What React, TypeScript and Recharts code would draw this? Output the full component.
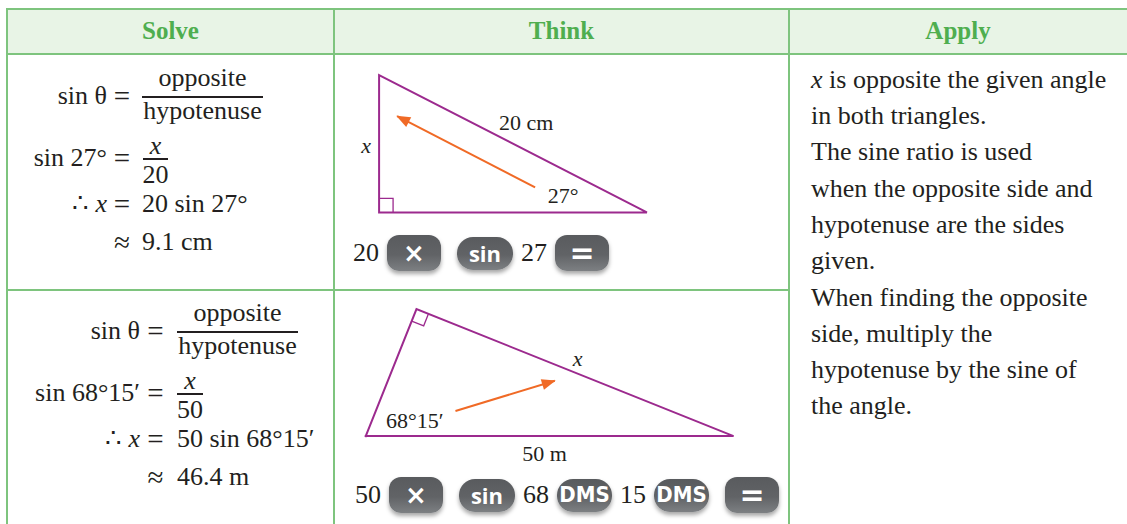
import React from "react";
import { LineChart, Line, XAxis, YAxis, ReferenceDot } from "recharts";

const SERIF = "'Liberation Serif', 'Times New Roman', serif";
const INK = "#231f20";
const GREEN = "#4fae4f";
const RULE = "#7ec47e";
const HEAD_BG = "#e8f4e6";
const PURPLE = "#9c2a8e";
const ORANGE = "#f06a26";

type Pt = { x: number; y: number };
type Note = { x: number; y: number; text: string };

const headers = ["Solve", "Think", "Apply"];

// triangle 1: hypotenuse 20 cm, angle 27°, opposite side x ≈ 9.1
const tri1Sides: Pt[] = [
    { x: 0, y: 0 },
    { x: 17.8, y: 0 },
    { x: 0, y: 9.1 },
    { x: 0, y: 0 },
];
const tri1Corner: Pt[] = [
    { x: 0, y: 0.93 },
    { x: 0.93, y: 0.93 },
    { x: 0.93, y: 0 },
];
const tri1Arrow: Pt[] = [
    { x: 10.37, y: 1.66 },
    { x: 1.2, y: 6.38 },
];
const tri1Notes: Note[] = [
    { x: 9.77, y: 5.98, text: "20 cm" },
    { x: -0.86, y: 4.45, text: "x" },
    { x: 12.23, y: 1.13, text: "27°" },
];

// triangle 2: hypotenuse 50 m, angle 68°15′, opposite side x ≈ 46.4
const tri2Sides: Pt[] = [
    { x: 0, y: 0 },
    { x: 50, y: 0 },
    { x: 6.9, y: 17.2 },
    { x: 0, y: 0 },
];
const tri2Corner: Pt[] = [
    { x: 6.25, y: 15.58 },
    { x: 7.88, y: 14.93 },
    { x: 8.53, y: 16.55 },
];
const tri2Arrow: Pt[] = [
    { x: 12.2, y: 3.4 },
    { x: 25.7, y: 7.5 },
];
const tri2Notes: Note[] = [
    { x: 28.8, y: 10.6, text: "x" },
    { x: 6.66, y: 2.17, text: "68°15′" },
    { x: 24.3, y: -2.31, text: "50 m" },
];

const keys1 = ["20", "×", "sin", "27", "="];
const keys2 = ["50", "×", "sin", "68", "DMS", "15", "DMS", "="];

const applyLines = [
    "x is opposite the given angle",
    "in both triangles.",
    "The sine ratio is used",
    "when the opposite side and",
    "hypotenuse are the sides",
    "given.",
    "When finding the opposite",
    "side, multiply the",
    "hypotenuse by the sine of",
    "the angle.",
];

const Txt: React.FC<{
    x: number;
    base: number;
    align?: "left" | "right" | "center";
    size?: number;
    bold?: boolean;
    color?: string;
    children: React.ReactNode;
}> = ({ x, base, align = "left", size = 26, bold, color = INK, children }) => {
    const w = 400;
    const left = align === "left" ? x : align === "right" ? x - w : x - w / 2;
    return (
        <div
            style={{
                position: "absolute",
                left,
                top: base - 20.8,
                width: w,
                textAlign: align,
                fontSize: size,
                lineHeight: "24px",
                fontWeight: bold ? 700 : 400,
                whiteSpace: "nowrap",
                color,
            }}
        >
            {children}
        </div>
    );
};

// relation sign (= or ≈), drawn a little larger like a math font
const Rel: React.FC<{ x: number; base: number; children: React.ReactNode }> = ({ x, base, children }) => (
    <Txt x={x} base={base} align="center" size={29}>
        {children}
    </Txt>
);

const Bar: React.FC<{ x1: number; x2: number; y: number }> = ({ x1, x2, y }) => (
    <div
        style={{
            position: "absolute",
            left: x1,
            top: y - 0.6,
            width: x2 - x1,
            height: 1.2,
            background: INK,
        }}
    />
);

const Rule: React.FC<{ x: number; y: number; w: number; h: number }> = ({ x, y, w, h }) => (
    <div style={{ position: "absolute", left: x, top: y, width: w, height: h, background: RULE }} />
);

const arrowHead = (pts: Pt[]) => (props: any) => {
    const { cx, cy, index } = props;
    if (index !== pts.length - 1) return <g key={`ah-${index}`} />;
    const a = pts[pts.length - 2];
    const b = pts[pts.length - 1];
    const ang = (Math.atan2(-(b.y - a.y), b.x - a.x) * 180) / Math.PI;
    return (
        <polygon
            key={`ah-${index}`}
            points="1,0 -13,-5.5 -13,5.5"
            transform={`translate(${cx},${cy}) rotate(${ang})`}
            fill={ORANGE}
        />
    );
};

type TriProps = {
    left: number;
    top: number;
    width: number;
    height: number;
    xDomain: [number, number];
    yDomain: [number, number];
    sides: Pt[];
    corner: Pt[];
    arrow: Pt[];
    notes: Note[];
};

const TriangleChart: React.FC<TriProps> = ({
    left,
    top,
    width,
    height,
    xDomain,
    yDomain,
    sides,
    corner,
    arrow,
    notes,
}) => (
    <div style={{ position: "absolute", left, top }}>
        <LineChart width={width} height={height} margin={{ top: 0, right: 0, bottom: 0, left: 0 }}>
            <XAxis type="number" dataKey="x" domain={xDomain} allowDataOverflow hide />
            <YAxis type="number" dataKey="y" domain={yDomain} allowDataOverflow hide />
            <Line
                data={sides}
                dataKey="y"
                type="linear"
                stroke={PURPLE}
                strokeWidth={2}
                strokeLinecap="square"
                dot={false}
                activeDot={false}
                isAnimationActive={false}
            />
            <Line
                data={corner}
                dataKey="y"
                type="linear"
                stroke={PURPLE}
                strokeWidth={1.3}
                dot={false}
                activeDot={false}
                isAnimationActive={false}
            />
            <Line
                data={arrow}
                dataKey="y"
                type="linear"
                stroke={ORANGE}
                strokeWidth={2}
                dot={arrowHead(arrow)}
                activeDot={false}
                isAnimationActive={false}
            />
            {notes.map((n) => (
                <ReferenceDot
                    key={n.text}
                    x={n.x}
                    y={n.y}
                    r={1}
                    fill="none"
                    stroke="none"
                    label={{
                        value: n.text,
                        position: "center",
                        fill: INK,
                        fontSize: 22,
                        fontFamily: SERIF,
                        fontStyle: n.text === "x" ? "italic" : "normal",
                    }}
                />
            ))}
        </LineChart>
    </div>
);

const keyStyle = (k: string): React.CSSProperties => {
    const pill = k === "sin" || k === "DMS";
    const base: React.CSSProperties = {
        margin: "0 8px",
        height: pill ? 33 : 36,
        width: k === "sin" ? 56 : k === "DMS" ? 55 : 54,
        borderRadius: pill ? 16 : 12,
        background: "linear-gradient(180deg, #595b5e 0%, #616366 55%, #7d8083 100%)",
        boxShadow: "0 3px 4px rgba(0,0,0,0.35)",
        color: "#ffffff",
        display: "flex",
        alignItems: "center",
        justifyContent: "center",
        lineHeight: 1,
    };
    if (k === "sin") return { ...base, fontFamily: "'Open Sans', sans-serif", fontWeight: 700, fontSize: 22 };
    if (k === "DMS")
        return {
            ...base,
            fontFamily: "'Liberation Sans Narrow', 'DejaVu Sans Condensed', sans-serif",
            fontWeight: 700,
            fontSize: 22,
        };
    if (k === "=") return { ...base, fontFamily: "'DejaVu Sans', sans-serif", fontWeight: 700, fontSize: 30 };
    return { ...base, fontFamily: "'DejaVu Sans', sans-serif", fontWeight: 700, fontSize: 26 };
};

const KeyRow: React.FC<{ keys: string[]; left: number; cy: number }> = ({ keys, left, cy }) => (
    <div
        style={{
            position: "absolute",
            left,
            top: cy - 20,
            height: 40,
            display: "flex",
            alignItems: "center",
        }}
    >
        {keys.map((k, i) =>
            /^\d+$/.test(k) ? (
                <span key={i} style={{ fontSize: 26, lineHeight: "30px", color: INK }}>
                    {k}
                </span>
            ) : (
                <div key={i} style={keyStyle(k)}>
                    {k}
                </div>
            )
        )}
    </div>
);

export default function App() {
    const headerCentres = [170.5, 561.5, 958];
    return (
        <div
            style={{
                position: "absolute",
                left: 0,
                top: 0,
                width: 1127,
                height: 524,
                overflow: "hidden",
                background: "#ffffff",
                fontFamily: SERIF,
                color: INK,
            }}
        >
            {/* header band */}
            <div style={{ position: "absolute", left: 7, top: 9, width: 1120, height: 45, background: HEAD_BG }} />
            {headers.map((h, i) => (
                <Txt key={h} x={headerCentres[i]} base={40} align="center" size={25} bold color={GREEN}>
                    {h}
                </Txt>
            ))}

            {/* grid lines */}
            <Rule x={6} y={8} w={1121} h={2} />
            <Rule x={6} y={53} w={1121} h={2} />
            <Rule x={6} y={289} w={784} h={2} />
            <Rule x={6} y={8} w={2} h={516} />
            <Rule x={333} y={8} w={2} h={516} />
            <Rule x={788} y={8} w={2} h={516} />

            {/* Solve: first row */}
            <Txt x={107} base={105} align="right">sin θ</Txt>
            <Rel x={122} base={105}>=</Rel>
            <Txt x={202.5} base={87} align="center">opposite</Txt>
            <Bar x1={142} x2={263} y={97} />
            <Txt x={202.5} base={120} align="center">hypotenuse</Txt>

            <Txt x={107} base={167} align="right">sin 27°</Txt>
            <Rel x={122} base={167}>=</Rel>
            <Txt x={155.5} base={155} align="center"><i>x</i></Txt>
            <Bar x1={143} x2={168} y={159} />
            <Txt x={155.5} base={184} align="center">20</Txt>

            <Txt x={107} base={213} align="right">∴ <i>x</i></Txt>
            <Rel x={122} base={213}>=</Rel>
            <Txt x={142} base={213}>20 sin 27°</Txt>

            <Rel x={122} base={251}>≈</Rel>
            <Txt x={142} base={251}>9.1 cm</Txt>

            {/* Solve: second row */}
            <Txt x={140} base={340} align="right">sin θ</Txt>
            <Rel x={155.5} base={340}>=</Rel>
            <Txt x={237.5} base={322} align="center">opposite</Txt>
            <Bar x1={177} x2={298} y={332} />
            <Txt x={237.5} base={355} align="center">hypotenuse</Txt>

            <Txt x={140} base={402} align="right">sin 68°15′</Txt>
            <Rel x={155.5} base={402}>=</Rel>
            <Txt x={190} base={390} align="center"><i>x</i></Txt>
            <Bar x1={177} x2={203} y={394} />
            <Txt x={190} base={419} align="center">50</Txt>

            <Txt x={140} base={448} align="right">∴ <i>x</i></Txt>
            <Rel x={155.5} base={448}>=</Rel>
            <Txt x={177} base={448}>50 sin 68°15′</Txt>

            <Rel x={155.5} base={486}>≈</Rel>
            <Txt x={177} base={486}>46.4 m</Txt>

            {/* Think */}
            <TriangleChart
                left={349}
                top={54}
                width={331}
                height={181}
                xDomain={[-2, 20]}
                yDomain={[-1.5, 10.5]}
                sides={tri1Sides}
                corner={tri1Corner}
                arrow={tri1Arrow}
                notes={tri1Notes}
            />
            <KeyRow keys={keys1} left={353} cy={253} />

            <TriangleChart
                left={351}
                top={281}
                width={412}
                height={192}
                xDomain={[-2, 54]}
                yDomain={[-5, 21]}
                sides={tri2Sides}
                corner={tri2Corner}
                arrow={tri2Arrow}
                notes={tri2Notes}
            />
            <KeyRow keys={keys2} left={355} cy={495} />

            {/* Apply */}
            {applyLines.map((line, i) => (
                <Txt key={i} x={811} base={88.5 + i * 36.3}>
                    {line.startsWith("x ") ? (
                        <>
                            <i>x</i>
                            {line.slice(1)}
                        </>
                    ) : (
                        line
                    )}
                </Txt>
            ))}
        </div>
    );
}
